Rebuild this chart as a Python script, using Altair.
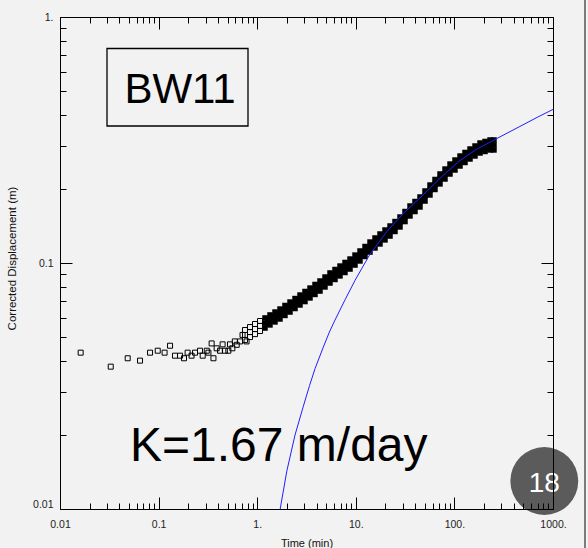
import altair as alt
import pandas as pd

FONT = "Liberation Sans"

# ---- data ----
# sparse early-time observations
t_early = [0.0162, 0.0327, 0.0486, 0.0648, 0.0819, 0.098, 0.115, 0.1306, 0.1466, 0.165,
           0.181, 0.197, 0.216, 0.234, 0.263, 0.28, 0.308, 0.32, 0.345, 0.36, 0.388,
           0.42, 0.446, 0.47, 0.51, 0.53, 0.56, 0.593, 0.62, 0.67, 0.71, 0.78]
d_early = [0.0432, 0.0379, 0.0410, 0.0401, 0.0432, 0.0440, 0.0432, 0.0461, 0.0420, 0.0420,
           0.0410, 0.0432, 0.0420, 0.0432, 0.0440, 0.0420, 0.0440, 0.0432, 0.0471, 0.0410, 0.0450,
           0.0440, 0.0467, 0.0440, 0.0440, 0.0467, 0.0450, 0.0480, 0.0465, 0.0480, 0.0510, 0.0480]

# dense band of observations: time and upper / middle / lower edge readings
t_band = [0.752, 0.845, 0.950, 1.068, 1.200, 1.348, 1.515, 1.703, 1.913, 2.151,
          2.418, 2.717, 3.053, 3.432, 3.857, 4.334, 4.871, 5.474, 6.152, 6.916,
          7.772, 8.735, 9.815, 11.03, 12.40, 13.93, 15.66, 17.60, 19.78, 22.23,
          24.98, 28.08, 31.55, 35.46, 39.85, 44.78, 50.33, 56.56, 63.56, 71.45,
          80.30, 90.25, 101.4, 114.0, 128.1, 144.0, 161.8, 181.9, 204.4, 229.7, 252.1]
d_band_upper = [0.0534, 0.0549, 0.0565, 0.0581, 0.0598, 0.0615, 0.0632, 0.0650, 0.0672, 0.0694,
                0.0717, 0.0741, 0.0766, 0.0791, 0.0818, 0.0845, 0.0877, 0.0911, 0.0941, 0.0972,
                0.1005, 0.1038, 0.1077, 0.1119, 0.1167, 0.1217, 0.1264, 0.1312, 0.1362, 0.1414,
                0.1474, 0.1538, 0.1619, 0.1705, 0.1778, 0.1855, 0.1962, 0.2075, 0.2185, 0.2301,
                0.2410, 0.2525, 0.2622, 0.2722, 0.2814, 0.2907, 0.2990, 0.3075, 0.3119, 0.3163, 0.3163]
d_band_mid = [0.0510, 0.0524, 0.0539, 0.0555, 0.0570, 0.0587, 0.0603, 0.0620, 0.0641, 0.0662,
              0.0685, 0.0707, 0.0731, 0.0755, 0.0780, 0.0806, 0.0837, 0.0869, 0.0898, 0.0928,
              0.0959, 0.0991, 0.1028, 0.1068, 0.1114, 0.1161, 0.1206, 0.1252, 0.1300, 0.1349,
              0.1407, 0.1468, 0.1545, 0.1627, 0.1697, 0.1770, 0.1872, 0.1980, 0.2085, 0.2196,
              0.2300, 0.2410, 0.2502, 0.2598, 0.2685, 0.2774, 0.2853, 0.2934, 0.2976, 0.3018, 0.3018]
d_band_lower = [0.0486, 0.0500, 0.0514, 0.0529, 0.0544, 0.0560, 0.0576, 0.0592, 0.0612, 0.0632,
                0.0653, 0.0675, 0.0697, 0.0721, 0.0745, 0.0769, 0.0799, 0.0829, 0.0857, 0.0886,
                0.0915, 0.0945, 0.0981, 0.1019, 0.1063, 0.1108, 0.1151, 0.1195, 0.1241, 0.1287,
                0.1343, 0.1401, 0.1474, 0.1553, 0.1619, 0.1689, 0.1786, 0.1890, 0.1990, 0.2096,
                0.2195, 0.2300, 0.2388, 0.2479, 0.2562, 0.2647, 0.2723, 0.2800, 0.2840, 0.2880, 0.2880]
SOLID_FROM = 4  # the band of overlapping squares is solid black from about t = 1.2 min onward

# fitted (blue) curve
t_fit = [1.71, 2.0, 2.42, 2.94, 3.4, 3.86, 4.68, 5.4, 6.15, 7.77, 9.82, 13.9,
         20.6, 30.3, 44.8, 56.6, 77.2, 114, 168, 248, 366, 462, 700, 1000]
d_fit = [0.0100, 0.0143, 0.0200, 0.0262, 0.0318, 0.0372, 0.0455, 0.0524, 0.0586, 0.0708,
         0.0850, 0.1085, 0.1340, 0.1590, 0.1840, 0.2015, 0.2275, 0.2610, 0.2900, 0.3150,
         0.3420, 0.3590, 0.3920, 0.4210]

# ticks and labels
x_ticks = [0.01, 0.02, 0.03, 0.04, 0.05, 0.06, 0.07, 0.08, 0.09,
           0.1, 0.2, 0.3, 0.4, 0.5, 0.6, 0.7, 0.8, 0.9,
           1, 2, 3, 4, 5, 6, 7, 8, 9,
           10, 20, 30, 40, 50, 60, 70, 80, 90,
           100, 200, 300, 400, 500, 600, 700, 800, 900, 1000]
x_label_vals = [0.01, 0.1, 1, 10, 100, 1000]
x_label_text = ["0.01", "0.1", "1.", "10.", "100.", "1000."]
y_ticks = [0.01, 0.02, 0.03, 0.04, 0.05, 0.06, 0.07, 0.08, 0.09,
           0.1, 0.2, 0.3, 0.4, 0.5, 0.6, 0.7, 0.8, 0.9, 1]
y_label_vals = [0.01, 0.1, 1]
y_label_text = ["0.01", "0.1", "1."]

well_label = ["BW11"]
k_label = ["K=1.67 m/day"]
badge_label = ["18"]

# ---- build tables ----
S = SOLID_FROM
df_open = pd.DataFrame({
    "t": t_early + t_band[:S] * 3,
    "d": d_early + d_band_upper[:S] + d_band_mid[:S] + d_band_lower[:S],
})
df_dense = pd.DataFrame({
    "t": t_band[S:] * 3,
    "d": d_band_upper[S:] + d_band_mid[S:] + d_band_lower[S:],
})
df_area = pd.DataFrame({"t": t_band[S:], "hi": d_band_upper[S:], "lo": d_band_lower[S:]})
df_fit = pd.DataFrame({"t": t_fit, "d": d_fit})


def label_expr(vals, texts):
    parts = [f"datum.value == {v} ? '{s}'" for v, s in zip(vals, texts)]
    return " : ".join(parts) + " : ''"


tick_expr = "abs(log(datum.value)/LN10 - round(log(datum.value)/LN10)) < 0.001 ? -12 : -6"

common = dict(
    tickSize={"expr": tick_expr}, tickColor="black", tickWidth=1,
    domainColor="black", domainWidth=1, grid=False, zindex=1,
)

x_axis_bottom = alt.Axis(
    orient="bottom", values=x_ticks, labelExpr=label_expr(x_label_vals, x_label_text),
    labelPadding=22, labelFlush=False, labelOverlap=False, labelFont=FONT,
    labelFontSize=10.5, labelColor="#222222",
    title="Time (min)", titleFont=FONT, titleFontSize=11, titleFontWeight="normal",
    titleColor="#111111", titleY=37, titleBaseline="alphabetic", **common)
y_axis_left = alt.Axis(
    orient="left", values=y_ticks, labelExpr=label_expr(y_label_vals, y_label_text),
    labelPadding=19, labelFlush=False, labelOverlap=False, labelFont=FONT,
    labelFontSize=10.5, labelColor="#222222",
    labelBaseline={"condition": {"test": "datum.value == 0.01", "value": "bottom"}, "value": "middle"},
    title="Corrected Displacement (m)", titleFont=FONT, titleFontSize=11.5,
    titleFontWeight="normal", titleColor="#111111", titleAngle=-90,
    titleBaseline="bottom", titleAlign="center", titleX=-43, titleY=241, **common)
x_axis_top = alt.Axis(orient="top", values=x_ticks, labels=False, title=None, **common)
y_axis_right = alt.Axis(orient="right", values=y_ticks, labels=False, title=None, **common)

xscale = alt.Scale(type="log", domain=[0.01, 1000], nice=False)
yscale = alt.Scale(type="log", domain=[0.01, 1], nice=False)

one = pd.DataFrame({"k": [0]})

box = alt.Chart(one).mark_rect(fillOpacity=0, stroke="black", strokeWidth=1.3).encode(
    x=alt.value(47), x2=alt.value(188), y=alt.value(31.5), y2=alt.value(109))

well_txt = alt.Chart(pd.DataFrame({"label": well_label})).mark_text(
    font=FONT, fontSize=42, align="center", baseline="alphabetic", color="black").encode(
    x=alt.value(120), y=alt.value(86.3), text="label:N")

k_txt = alt.Chart(pd.DataFrame({"label": k_label})).mark_text(
    font=FONT, fontSize=48, align="left", baseline="alphabetic", color="black").encode(
    x=alt.value(70), y=alt.value(443.7), text="label:N")

circle = alt.Chart(one).mark_circle(size=4608, color="#5b5b5b", opacity=1).encode(
    x=alt.value(484.3), y=alt.value(464))

badge_txt = alt.Chart(pd.DataFrame({"label": badge_label})).mark_text(
    font=FONT, fontSize=28, align="center", baseline="alphabetic", color="white").encode(
    x=alt.value(484.3), y=alt.value(474.7), text="label:N")

band = alt.Chart(df_area).mark_area(color="black", opacity=1).encode(
    x=alt.X("t:Q", scale=xscale, axis=None),
    y=alt.Y("hi:Q", scale=yscale, axis=None),
    y2="lo:Q")

dense = alt.Chart(df_dense).mark_point(
    shape="square", filled=True, size=30, color="black", opacity=1).encode(
    x=alt.X("t:Q", scale=xscale, axis=None),
    y=alt.Y("d:Q", scale=yscale, axis=None))

pts = alt.Chart(df_open).mark_point(
    shape="square", filled=False, size=25, color="black", strokeWidth=1, opacity=1).encode(
    x=alt.X("t:Q", scale=xscale, axis=x_axis_bottom),
    y=alt.Y("d:Q", scale=yscale, axis=y_axis_left))

fit = alt.Chart(df_fit).mark_line(color="#1f1fff", strokeWidth=1, clip=True).encode(
    x=alt.X("t:Q", scale=xscale, axis=x_axis_top),
    y=alt.Y("d:Q", scale=yscale, axis=y_axis_right))

frame = alt.Chart(one).mark_rule(color="#555555", strokeWidth=1.5).encode(
    x=alt.value(525), y=alt.value(-17), y2=alt.value(531))

chart = alt.layer(box, well_txt, k_txt, circle, band, dense, pts, fit, badge_txt, frame).resolve_axis(
    x="independent", y="independent"
).properties(
    width=493, height=492,
    autosize=alt.AutoSizeParams(type="none"),
    padding={"left": 60, "top": 17, "right": 35, "bottom": 39},
    background="#f2f2f2",
).configure_view(stroke=None)

chart.save("out.html", embed_options={"renderer": "svg", "actions": False})
